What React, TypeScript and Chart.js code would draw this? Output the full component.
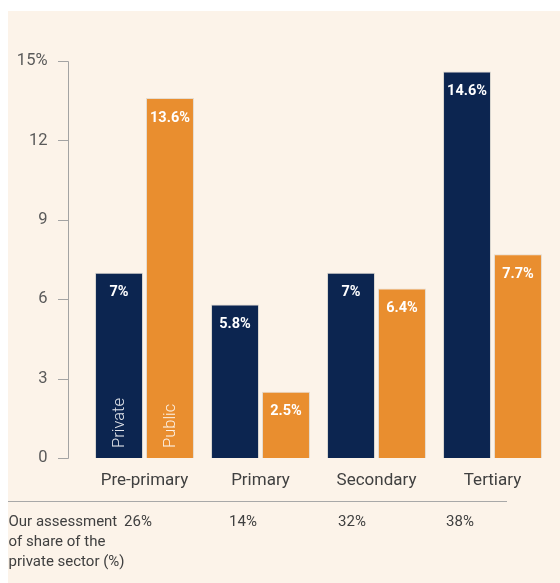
import React, { useEffect, useRef } from 'react';
import { Chart, registerables } from 'chart.js';

Chart.register(...registerables);

const categories = ['Pre-primary', 'Primary', 'Secondary', 'Tertiary'];
const seriesNames = ['Private', 'Public'];
const privateValues = [7, 5.8, 7, 14.6];
const publicValues = [13.6, 2.5, 6.4, 7.7];
const yTicks = [0, 3, 6, 9, 12, 15];
const privateShare = [26, 14, 32, 38];
const shareCaption = ['Our assessment', 'of share of the', 'private sector (%)'];

const NAVY = '#0c2550';
const ORANGE = '#e98e2f';
const BG = '#fcf3e9';
const FONT = 'Roboto, "Noto Sans", sans-serif';

const decorPlugin = {
  id: 'decor',
  afterDatasetsDraw(chart: any) {
    const ctx = chart.ctx;
    const y = chart.scales.y;
    // data labels
    ctx.save();
    ctx.fillStyle = '#ffffff';
    ctx.font = `bold 14.5px ${FONT}`;
    ctx.textAlign = 'center';
    ctx.textBaseline = 'middle';
    chart.data.datasets.forEach((ds: any, di: number) => {
      const meta = chart.getDatasetMeta(di);
      meta.data.forEach((bar: any, i: number) => {
        ctx.fillText(`${ds.data[i]}%`, bar.x, bar.y + 20);
      });
    });
    // rotated series names in the first group
    ctx.font = `300 16.5px ${FONT}`;
    ctx.textAlign = 'left';
    chart.data.datasets.forEach((ds: any, di: number) => {
      const bar = chart.getDatasetMeta(di).data[0];
      ctx.save();
      ctx.translate(bar.x, bar.base - 10);
      ctx.rotate(-Math.PI / 2);
      ctx.fillStyle = 'rgba(255,255,255,0.88)';
      ctx.fillText(seriesNames[di], 0, 1);
      ctx.restore();
    });
    ctx.restore();

    // y axis line and tick marks
    ctx.save();
    ctx.strokeStyle = '#a3a3a3';
    ctx.lineWidth = 1;
    const ax = 60.5;
    ctx.beginPath();
    ctx.moveTo(ax, Math.round(y.getPixelForValue(15)) + 0.5);
    ctx.lineTo(ax, Math.round(y.getPixelForValue(0)) + 0.5);
    yTicks.forEach((t) => {
      const py = Math.round(y.getPixelForValue(t)) + 0.5;
      ctx.moveTo(50, py);
      ctx.lineTo(ax, py);
    });
    ctx.stroke();

    // footer rule
    ctx.strokeStyle = '#a8a8a8';
    ctx.beginPath();
    ctx.moveTo(0, 490.5);
    ctx.lineTo(499, 490.5);
    ctx.stroke();

    // footer text
    ctx.fillStyle = '#404040';
    ctx.font = `15px ${FONT}`;
    ctx.textBaseline = 'middle';
    ctx.textAlign = 'left';
    shareCaption.forEach((line, i) => {
      ctx.fillText(line, 0.5, 511 + i * 20);
    });
    const shareX = [130, 235, 344, 452];
    ctx.textAlign = 'center';
    privateShare.forEach((v, i) => {
      ctx.fillText(`${v}%`, shareX[i], 511);
    });
    ctx.restore();
  },
};

export default function App() {
  const canvasRef = useRef<HTMLCanvasElement | null>(null);

  useEffect(() => {
    if (!canvasRef.current) return;
    const chart = new Chart(canvasRef.current, {
      type: 'bar',
      data: {
        labels: categories,
        datasets: [
          {
            label: seriesNames[0],
            data: privateValues,
            backgroundColor: NAVY,
            borderColor: '#d9d6d0',
            borderWidth: 1,
            categoryPercentage: 0.879,
            barPercentage: 0.941,
          },
          {
            label: seriesNames[1],
            data: publicValues,
            backgroundColor: ORANGE,
            borderColor: '#e6dccf',
            borderWidth: 1,
            categoryPercentage: 0.879,
            barPercentage: 0.941,
          },
        ],
      },
      options: {
        animation: false,
        responsive: true,
        maintainAspectRatio: false,
        layout: { padding: { top: 50, right: 9.5, left: 0, bottom: 0 } },
        plugins: {
          legend: { display: false },
          tooltip: { enabled: false },
        },
        scales: {
          x: {
            grid: { display: false, drawTicks: false },
            border: { display: false },
            ticks: {
              padding: 13,
              color: '#404040',
              font: { family: FONT, size: 17 },
            },
            afterFit(scale: any) {
              scale.height = 125;
            },
          },
          y: {
            min: 0,
            max: 15,
            grid: { display: false, drawTicks: false },
            border: { display: false },
            ticks: {
              stepSize: 3,
              padding: 39,
              color: '#5a5a5a',
              font: { family: FONT, size: 16.5 },
              callback: (v: any) => (v === 15 ? '15%' : `${v}`),
            },
            afterFit(scale: any) {
              scale.width = 78.5;
            },
          },
        },
      },
      plugins: [decorPlugin],
    });
    return () => chart.destroy();
  }, []);

  return (
    <div
      style={{
        position: 'fixed',
        left: 8,
        top: 11,
        width: 552,
        height: 572,
        background: BG,
      }}
    >
      <canvas ref={canvasRef} />
    </div>
  );
}
